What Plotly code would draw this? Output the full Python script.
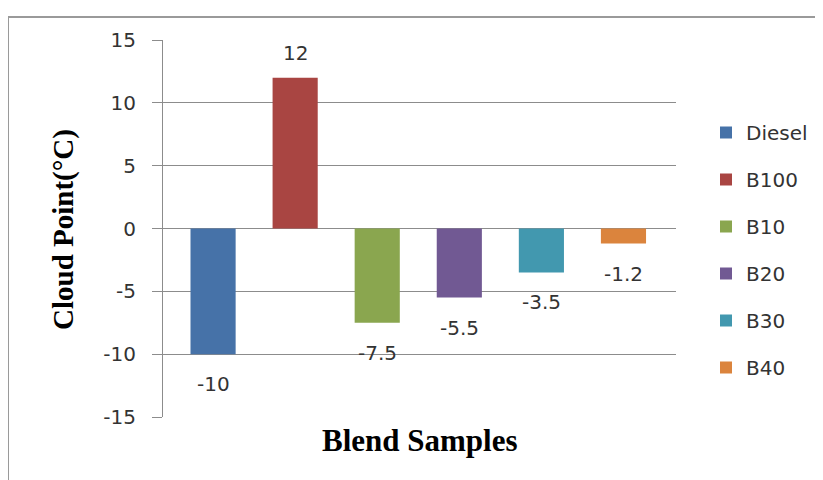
import plotly.graph_objects as go

samples = ["Diesel", "B100", "B10", "B20", "B30", "B40"]
cloud_point = [-10, 12, -7.5, -5.5, -3.5, -1.2]
colors = ["#4672A8", "#A94542", "#8AA64F", "#715993", "#4298AF", "#DB843D"]
y_ticks = [-15, -10, -5, 0, 5, 10, 15]

# page body has an 8px margin: work in figure coordinates (screen - 8)
OFF = 8
W, H = 823, 480
L, R, T, B = 163 - OFF, 676 - OFF, 40 - OFF, 417 - OFF

fig = go.Figure()
for i, (name, val, col) in enumerate(zip(samples, cloud_point, colors)):
    fig.add_trace(go.Bar(
        x=[name], y=[val], name=name, marker=dict(color=col, line=dict(width=0)),
        width=0.55, legendgroup=name, showlegend=True,
    ))
    fig.add_annotation(
        x=name, y=val, xref="x", yref="y", text=f"{val:g}", showarrow=False,
        yshift=25 if val > 0 else -30, yanchor="middle",
        font=dict(family="DejaVu Sans", size=20, color="#333333"),
    )

pw = R - L
ph = B - T
def px_x(p):
    return (p - OFF - L) / pw
def px_y(p):
    return (B - (p - OFF)) / ph

fig.add_annotation(
    xref="paper", yref="paper", x=px_x(63), y=px_y(230), text="<b>Cloud Point(°C)</b>",
    textangle=-90, showarrow=False, xanchor="center", yanchor="middle",
    font=dict(family="Liberation Serif", size=29, color="#000000"),
)
fig.add_annotation(
    xref="paper", yref="paper", x=px_x(420), y=px_y(440), text="<b>Blend Samples</b>",
    showarrow=False, xanchor="center", yanchor="middle",
    font=dict(family="Liberation Serif", size=31, color="#000000"),
)

# outer frame
fig.add_shape(type="rect", xref="paper", yref="paper",
              x0=px_x(8), x1=px_x(850), y0=px_y(500), y1=px_y(17),
              line=dict(color="#9a9a9a", width=2), layer="below")

fig.update_layout(
    width=W, height=H,
    margin=dict(l=L, r=W - R, t=T, b=H - B, pad=0),
    paper_bgcolor="white", plot_bgcolor="white",
    barmode="overlay",
    showlegend=True,
    legend=dict(
        x=px_x(706), y=px_y(113), xanchor="left", yanchor="top",
        font=dict(family="DejaVu Sans", size=20, color="#333333"),
        tracegroupgap=18, bgcolor="rgba(0,0,0,0)",
        itemsizing="constant",
    ),
    xaxis=dict(
        type="category", categoryorder="array", categoryarray=samples,
        range=[-0.61, 5.64], showticklabels=False, showgrid=False,
        zeroline=False, showline=False, ticks="",
    ),
    yaxis=dict(
        range=[-15, 15], tickvals=y_ticks, ticktext=[str(v) for v in y_ticks],
        showgrid=True, gridcolor="#8c8c8c", gridwidth=1,
        zeroline=True, zerolinecolor="#8c8c8c", zerolinewidth=1,
        showline=True, linecolor="#8c8c8c", linewidth=1,
        ticks="outside", ticklen=10, tickcolor="#8c8c8c",
        ticklabelstandoff=12,
        tickfont=dict(family="DejaVu Sans", size=20, color="#333333"),
    ),
)

fig.write_html("out.html")
